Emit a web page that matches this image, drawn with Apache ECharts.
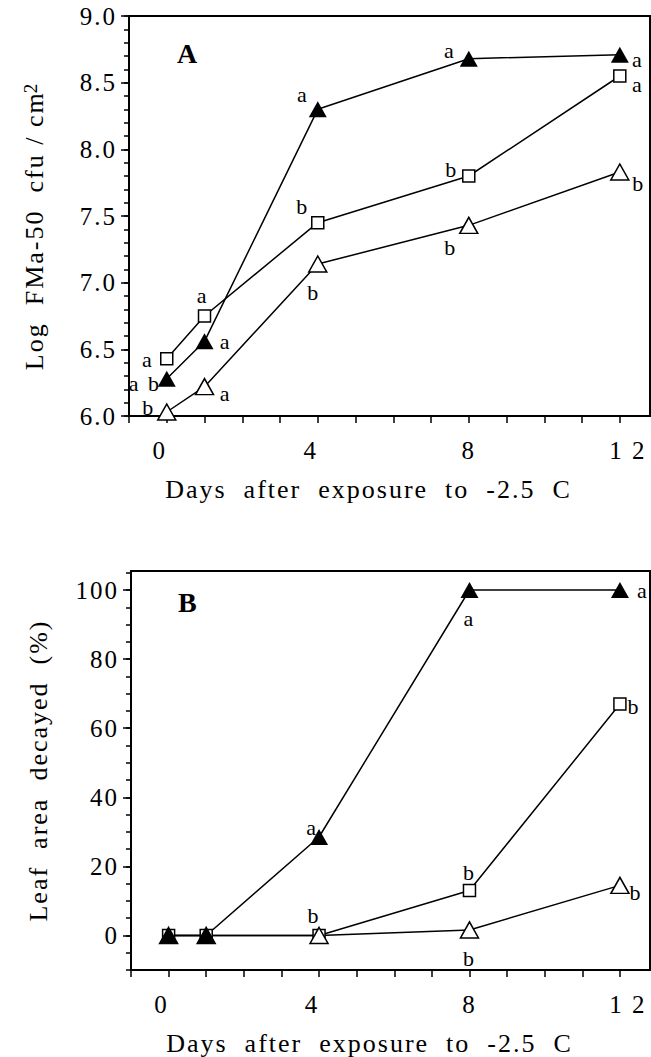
<!DOCTYPE html>
<html>
<head>
<meta charset="utf-8">
<script src="https://cdn.jsdelivr.net/npm/echarts@6/dist/echarts.min.js"></script>
<style>
html, body { margin: 0; padding: 0; background: #fff; }
#chart { width: 651px; height: 1057px; }
#chart svg text { letter-spacing: 2px; }
</style>
</head>
<body>
<div id="chart"></div>
<script>
// days after exposure to -2.5 C
var days = [0, 1, 4, 8, 12];
var xTickValues = [0, 4, 8, 12];
var xTickLabels = ['0', '4', '8', '1 2'];

// panel A: Log FMa-50 cfu / cm2
var logFilledTri = [6.28, 6.56, 8.30, 8.68, 8.71];
var logSquare = [6.43, 6.75, 7.45, 7.80, 8.55];
var logOpenTri = [6.03, 6.22, 7.14, 7.43, 7.83];
var lettersFilledA = ['a b', 'a', 'a', 'a', 'a'];
var lettersSquareA = ['a', 'a', 'b', 'b', 'a'];
var lettersOpenA = ['b', 'a', 'b', 'b', 'b'];
var yTicksA = [6.0, 6.5, 7.0, 7.5, 8.0, 8.5, 9.0];

// panel B: Leaf area decayed (%)
var decFilledTri = [0, 0, 28.5, 100, 100];
var decSquare = [0, 0, 0, 13, 67];
var decOpenTri = [0, 0, 0, 1.6, 14.5];
var lettersFilledB = ['', '', 'a', 'a', 'a'];
var lettersSquareB = ['', '', 'b', 'b', 'b'];
var lettersOpenB = ['', '', '', 'b', 'b'];
var yTicksB = [0, 20, 40, 60, 80, 100];

var FONT = '"Liberation Serif", "Times New Roman", serif';

// where each letter sits around its marker (px)
var offFilledA = [[-22, 5], [21, 0], [-15, -15], [-19, -8], [18, 5]];
var offSquareA = [[-19, 1], [-2, -21], [-15, -16], [-17, -7], [18, 8]];
var offOpenA = [[-18, -5], [21, 7], [-4, 28], [-18, 22], [19, 11]];
var offFilledB = [null, null, [-7, -10], [0, 28], [23, 0]];
var offSquareB = [null, null, [-5, -20], [0, -18], [14, 2]];
var offOpenB = [null, null, null, [0, 29], [16, 7]];
// the printed day labels sit a little off their ticks
var xLabelRich = {
  l0: { padding: [0, 14, 0, 0] },
  l1: { padding: [0, 14, 0, 0] },
  l2: { padding: [0, 0, 0, 0] },
  l3: { padding: [0, 0, 0, 16] }
};

function range(a, b, step, digits) {
  var out = [];
  for (var v = a; v <= b + 1e-9; v += step) out.push(+v.toFixed(digits));
  return out;
}

function makeSeries(vals, letters, offs, kind, gi) {
  var data = days.map(function (d, i) {
    var item = { value: [d, vals[i]] };
    if (letters[i]) {
      item.label = {
        show: true, formatter: letters[i], position: 'inside', offset: offs[i],
        color: '#000', fontSize: 22, lineHeight: 18, fontFamily: FONT
      };
    }
    return item;
  });
  var filled = kind === 'filled';
  return {
    type: 'line',
    xAxisIndex: gi,
    yAxisIndex: gi * 2,
    data: data,
    symbol: kind === 'square' ? 'rect' : 'triangle',
    symbolSize: kind === 'square' ? 12 : [18, 16],
    showSymbol: true,
    lineStyle: { color: '#000', width: 1.5 },
    itemStyle: { color: filled ? '#000' : '#fff', borderColor: '#000', borderWidth: filled ? 0 : 1.5 },
    label: { show: false },
    emphasis: { disabled: true },
    silent: true
  };
}

function xAxisFor(gi) {
  var rich = {};
  Object.keys(xLabelRich).forEach(function (k) {
    rich[k] = Object.assign({ color: '#000', fontSize: 25, fontFamily: FONT }, xLabelRich[k]);
  });
  return {
    type: 'value', gridIndex: gi, min: -1, max: 12.8,
    name: 'Days  after  exposure  to  -2.5  C',
    nameLocation: 'middle', nameGap: 60,
    nameTextStyle: { color: '#000', fontSize: 26, fontFamily: FONT, padding: [0, 42, 0, 0] },
    axisLine: { onZero: false, lineStyle: { color: '#000', width: 2 } },
    axisTick: { length: 7, lineStyle: { color: '#000', width: 1.5 }, customValues: range(-1, 12, 1, 0) },
    axisLabel: {
      customValues: xTickValues, margin: 22, color: '#000', fontSize: 25, fontFamily: FONT, rich: rich,
      formatter: function (v) {
        var i = xTickValues.indexOf(v);
        return '{l' + i + '|' + xTickLabels[i] + '}';
      }
    },
    splitLine: { show: false }
  };
}

function yAxesFor(gi, min, max, ticks, minorStart, minorStep, digits, name, gap, rich) {
  var main = {
    type: 'value', gridIndex: gi, min: min, max: max, position: 'left',
    name: name, nameLocation: 'middle', nameGap: gap,
    nameTextStyle: { color: '#000', fontSize: 26, fontFamily: FONT, rich: rich },
    axisLine: { onZero: false, lineStyle: { color: '#000', width: 2 } },
    axisTick: { length: 8, lineStyle: { color: '#000', width: 1.5 }, customValues: ticks },
    axisLabel: {
      customValues: ticks, margin: 12, color: '#000', fontSize: 25, fontFamily: FONT,
      formatter: function (v) { return v.toFixed(digits); }
    },
    splitLine: { show: false }
  };
  var minor = {
    type: 'value', gridIndex: gi, min: min, max: max, position: 'left',
    axisLine: { show: false, onZero: false },
    axisTick: { length: 5, lineStyle: { color: '#000', width: 1.5 }, customValues: range(minorStart, max, minorStep, 1) },
    axisLabel: { show: false },
    splitLine: { show: false }
  };
  return [main, minor];
}

var chart = echarts.init(document.getElementById('chart'), null, { renderer: 'svg' });

var option = {
  backgroundColor: '#fff',
  animation: false,
  grid: [
    { left: 129, top: 16, right: 1, height: 400, show: true, borderColor: '#000', borderWidth: 2 },
    { left: 131, top: 571, right: 1, height: 400, show: true, borderColor: '#000', borderWidth: 2 }
  ],
  xAxis: [xAxisFor(0), xAxisFor(1)],
  yAxis: [].concat(
    yAxesFor(0, 6, 9, yTicksA, 6, 0.1, 1, '{t|Log  FMa-50  cfu / cm}{sup|2}', 82, {
      t: { fontSize: 26, fontFamily: FONT, color: '#000' },
      // padding-left makes room for the letter spacing of the text before it
      sup: { fontSize: 19, lineHeight: 19, padding: [0, 0, 32, 20], verticalAlign: 'top', fontFamily: FONT, color: '#000' }
    }),
    yAxesFor(1, -10, 105.5, yTicksB, -10, 5, 0, 'Leaf  area  decayed  (%)', 80, null)
  ),
  graphic: [
    { type: 'text', x: 177, y: 53.5, style: { text: 'A', fill: '#000', font: 'bold 28px ' + FONT, verticalAlign: 'middle', align: 'left' } },
    { type: 'text', x: 178, y: 602.5, style: { text: 'B', fill: '#000', font: 'bold 28px ' + FONT, verticalAlign: 'middle', align: 'left' } }
  ],
  series: [
    makeSeries(logSquare, lettersSquareA, offSquareA, 'square', 0),
    makeSeries(logOpenTri, lettersOpenA, offOpenA, 'open', 0),
    makeSeries(logFilledTri, lettersFilledA, offFilledA, 'filled', 0),
    makeSeries(decSquare, lettersSquareB, offSquareB, 'square', 1),
    makeSeries(decOpenTri, lettersOpenB, offOpenB, 'open', 1),
    makeSeries(decFilledTri, lettersFilledB, offFilledB, 'filled', 1)
  ]
};

chart.setOption(option);
</script>
</body>
</html>
